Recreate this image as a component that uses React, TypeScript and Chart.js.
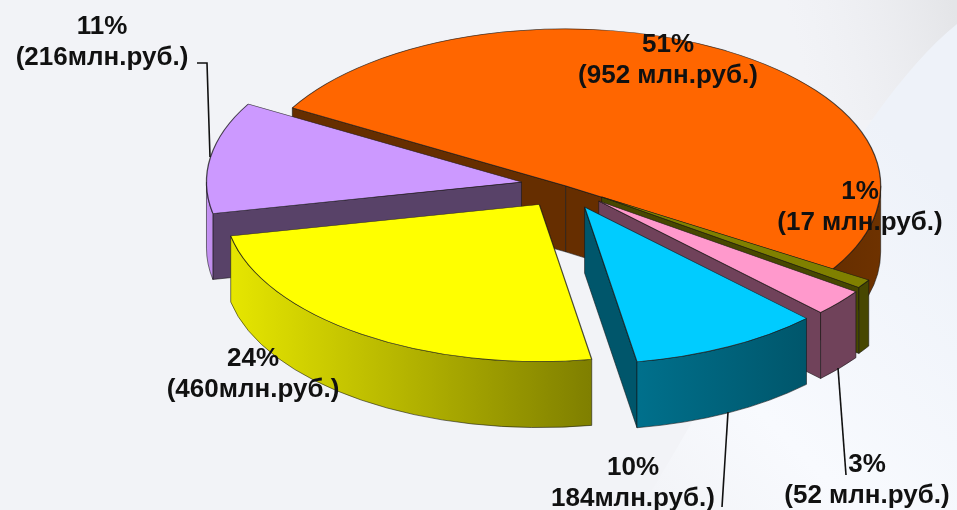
import React, { useEffect, useRef } from "react";
import { Chart, registerables, PieController } from "chart.js";

const categories = ["51%", "1%", "3%", "10%", "24%", "11%"];
const amounts = [952, 17, 52, 184, 460, 216];
const sliceColors = ["#FF6600", "#808000", "#FF99CC", "#00CCFF", "#FFFF00", "#CC99FF"];
const radialWallColors = ["#662E00", "#474700", "#70425A", "#00566B", "#7F7F00", "#584268"];
const outerWallFrom = ["#662E00", "#474700", "#70425A", "#00708C", "#E6E600", "#C794F5"];
const outerWallTo = ["#6E3200", "#474700", "#70425A", "#00566B", "#7F7F00", "#BE8CEB"];
const explodePx = [12, 50, 50, 45, 33, 37];
const explodeNudge = [
  [1.5, 2],
  [2, -6],
  [2.5, -4],
  [6, -2],
  [0, 2],
  [0, -4],
];
const labelLines = [
  ["51%", "(952 млн.руб.)"],
  ["1%", "(17 млн.руб.)"],
  ["3%", "(52 млн.руб.)"],
  ["10%", "184млн.руб.)"],
  ["24%", "(460млн.руб.)"],
  ["11%", "(216млн.руб.)"],
];
const labelCenters = [
  [668, 45],
  [860, 192],
  [867, 465],
  [633, 468],
  [253, 359],
  [102, 27],
];
const leaders = [
  [[838, 368], [846, 475]],
  [[728, 412], [722, 507]],
  [[210, 157], [207, 63], [197, 63]],
];

const PIE_R = 200;
const RX = 315;
const RY = 157;
const CX = 558;
const CY = 189;
const DEPTH = 66;
const SX = RX / PIE_R;
const SY = RY / PIE_R;
const PAINT_ORDER = [0, 5, 1, 2, 4, 3];

// Screen position of a slice's apex once it has been pulled out of the pie.
const sliceApex = (a: any, i: number) => {
  const mid = (a.startAngle + a.endAngle) / 2;
  return [
    CX + Math.cos(mid) * explodePx[i] + explodeNudge[i][0],
    CY + Math.sin(mid) * explodePx[i] * (SY / SX) + explodeNudge[i][1],
  ];
};

class ExplodedPie extends PieController {
  static id = "explodedPie";
  draw() {
    const { ctx } = this.chart as any;
    const arcs = (this as any)._cachedMeta.data;
    arcs.forEach((a: any, i: number) => {
      const [vx, vy] = sliceApex(a, i);
      ctx.save();
      ctx.translate(vx, vy);
      ctx.scale(SX, SY);
      ctx.translate(-a.x, -a.y);
      a.draw(ctx);
      ctx.restore();
    });
  }
}

Chart.register(...registerables, ExplodedPie);

const pie3d = {
  id: "pie3d",
  beforeDraw(chart: any) {
    const { ctx, width, height } = chart;
    ctx.save();
    ctx.fillStyle = "#F2F3F7";
    ctx.fillRect(0, 0, width, height);
    const corner = ctx.createLinearGradient(800, 60, 957, 20);
    corner.addColorStop(0, "rgba(235,236,240,0)");
    corner.addColorStop(1, "rgba(228,229,232,1)");
    ctx.fillStyle = corner;
    ctx.fillRect(760, 0, 197, 120);
    const g = ctx.createLinearGradient(640, 510, 957, 200);
    g.addColorStop(0, "#F2F3F7");
    g.addColorStop(0.35, "#F8FAFE");
    g.addColorStop(1, "#EEF2F9");
    ctx.fillStyle = g;
    ctx.beginPath();
    ctx.moveTo(640, 510);
    ctx.bezierCurveTo(740, 350, 850, 110, 957, 24);
    ctx.lineTo(957, 510);
    ctx.closePath();
    ctx.fill();
    ctx.restore();
  },
  beforeDatasetsDraw(chart: any) {
    const { ctx } = chart;
    const arcs = chart.getDatasetMeta(0).data;
    ctx.save();
    ctx.strokeStyle = "rgba(20,20,20,0.7)";
    ctx.lineWidth = 0.8;
    for (const i of PAINT_ORDER) {
      const a = arcs[i];
      const s = a.startAngle;
      const e = a.endAngle;
      const mid = (s + e) / 2;
      const [vx, vy] = sliceApex(a, i);
      const rx = a.outerRadius * SX;
      const ry = a.outerRadius * SY;
      const ix = Math.cos(mid) * rx;
      const iy = Math.sin(mid) * ry;
      ctx.fillStyle = radialWallColors[i];
      for (const t of [s, e]) {
        const edx = Math.cos(t) * rx;
        const edy = Math.sin(t) * ry;
        // A cut face shows only when the slice body lies on the far side of the edge.
        if (edx * (edx * iy - edy * ix) > 0) continue;
        ctx.beginPath();
        ctx.moveTo(vx, vy);
        ctx.lineTo(vx + edx, vy + edy);
        ctx.lineTo(vx + edx, vy + edy + DEPTH);
        ctx.lineTo(vx, vy + DEPTH);
        ctx.closePath();
        ctx.fill();
        ctx.stroke();
      }
      for (const turn of [0, 2 * Math.PI]) {
        const lo = Math.max(s, turn);
        const hi = Math.min(e, turn + Math.PI);
        if (hi <= lo) continue;
        const x1 = vx + Math.cos(hi) * rx;
        const x2 = vx + Math.cos(lo) * rx;
        const g = ctx.createLinearGradient(x1, 0, x2, 0);
        g.addColorStop(0, outerWallFrom[i]);
        g.addColorStop(1, outerWallTo[i]);
        ctx.fillStyle = g;
        ctx.beginPath();
        ctx.ellipse(vx, vy, rx, ry, 0, lo, hi, false);
        ctx.ellipse(vx, vy + DEPTH, rx, ry, 0, hi, lo, true);
        ctx.closePath();
        ctx.fill();
        ctx.stroke();
      }
    }
    ctx.restore();
  },
  afterDatasetsDraw(chart: any) {
    const { ctx } = chart;
    ctx.save();
    ctx.strokeStyle = "#111";
    ctx.lineWidth = 1.6;
    for (const pts of leaders) {
      ctx.beginPath();
      pts.forEach((p, k) => (k ? ctx.lineTo(p[0], p[1]) : ctx.moveTo(p[0], p[1])));
      ctx.stroke();
    }
    ctx.fillStyle = "#111";
    ctx.font = "bold 26px 'Liberation Sans', Arial, sans-serif";
    ctx.textAlign = "center";
    ctx.textBaseline = "middle";
    labelLines.forEach((lines, i) => {
      const [x, y] = labelCenters[i];
      ctx.fillText(lines[0], x, y);
      ctx.fillText(lines[1], x, y + 31);
    });
    ctx.restore();
  },
};

export default function App() {
  const ref = useRef<HTMLCanvasElement>(null);
  useEffect(() => {
    const chart = new Chart(ref.current as HTMLCanvasElement, {
      type: "explodedPie",
      data: {
        labels: categories,
        datasets: [
          {
            data: amounts,
            backgroundColor: sliceColors,
            borderColor: "rgba(20,20,20,0.75)",
            borderWidth: 0.8,
          } as any,
        ],
      },
      options: {
        animation: false,
        responsive: false,
        rotation: 299.8,
        radius: PIE_R,
        events: [],
        plugins: { legend: { display: false }, tooltip: { enabled: false } },
      } as any,
      plugins: [pie3d],
    } as any);
    return () => chart.destroy();
  }, []);
  return (
    <div style={{ position: "fixed", left: 0, top: 0 }}>
      <canvas ref={ref} width={957} height={510} style={{ display: "block" }} />
    </div>
  );
}
